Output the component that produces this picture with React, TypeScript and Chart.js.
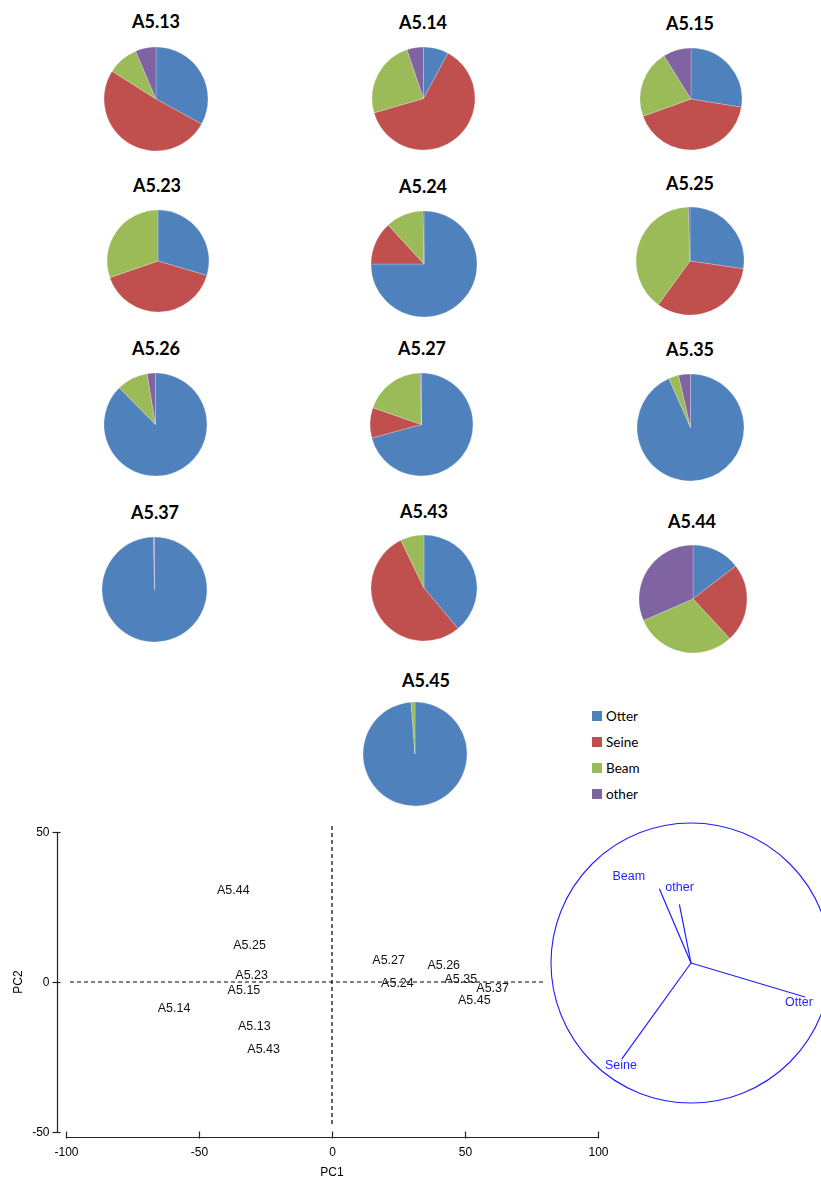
import React, { useEffect, useRef } from "react";
import { Chart, registerables } from "chart.js";

Chart.register(...registerables);

// ---- Gear categories ----
const gearTypes = ["Otter", "Seine", "Beam", "other"];
const gearColors = ["#4F81BD", "#C0504D", "#9BBB59", "#8064A2"];

// ---- Sites and gear composition (% of catch) ----
const sites = ["A5.13", "A5.14", "A5.15", "A5.23", "A5.24", "A5.25", "A5.26", "A5.27", "A5.35", "A5.37", "A5.43", "A5.44", "A5.45"];
const otterShare = [33.0, 7.9, 27.6, 29.6, 75.0, 27.3, 87.6, 70.8, 93.4, 99.7, 38.9, 14.5, 98.8];
const seineShare = [51.0, 62.6, 41.9, 40.1, 13.2, 32.7, 0, 9.5, 0, 0, 53.9, 23.6, 0];
const beamShare = [9.6, 24.3, 21.6, 30.3, 11.5, 39.5, 9.8, 19.3, 3.0, 0, 7.2, 30.4, 1.2];
const otherShare = [6.4, 5.2, 8.9, 0, 0.3, 0.5, 2.6, 0.4, 3.6, 0.3, 0, 31.5, 0];

// ---- PCA site scores ----
const pc1Scores = [-29.2, -59.4, -33.1, -30.2, 24.6, -31.0, 42.0, 21.3, 48.4, 60.4, -25.7, -37.1, 53.5];
const pc2Scores = [-15.0, -9.0, -2.8, 2.1, -0.6, 12.3, 5.4, 7.0, 0.7, -2.2, -22.5, 30.6, -6.3];

// ---- PCA axis ticks and reference lines ----
const pc1Ticks = [-100, -50, 0, 50, 100];
const pc2Ticks = [-50, 0, 50];
const horizontalRefX = [-98.5, 79.3];
const verticalRefY = [52, -48.3];

// ---- Gear loadings on PC1/PC2 (correlation circle) ----
const loadingPC1 = [0.814, -0.495, -0.226, -0.083];
const loadingPC2 = [-0.243, -0.686, 0.531, 0.419];

// Page placement of each small pie (centre, radius, title centre)
const pieLayout = [
  { cx: 156, cy: 98.5, r: 52, tx: 156, ty: 21 },
  { cx: 423.5, cy: 98.5, r: 51.5, tx: 423, ty: 22 },
  { cx: 690.5, cy: 99, r: 51, tx: 690, ty: 23 },
  { cx: 157.5, cy: 260.5, r: 51, tx: 157, ty: 185 },
  { cx: 423.5, cy: 263.5, r: 53, tx: 423, ty: 185.5 },
  { cx: 689.5, cy: 261, r: 54, tx: 690, ty: 183 },
  { cx: 155.5, cy: 424.5, r: 51.5, tx: 156, ty: 348 },
  { cx: 421.5, cy: 424.5, r: 51.5, tx: 422, ty: 348 },
  { cx: 690.5, cy: 427, r: 53.5, tx: 690, ty: 349 },
  { cx: 154.5, cy: 589.5, r: 52.5, tx: 155, ty: 512 },
  { cx: 424, cy: 588, r: 53, tx: 424, ty: 511 },
  { cx: 692.5, cy: 598.5, r: 54, tx: 692, ty: 521 },
  { cx: 415, cy: 754, r: 52, tx: 426, ty: 680 },
];

// Label offsets (px) from each loading arrow tip
const loadingLabelOffset = [
  { dx: -6, dy: 6 },
  { dx: -0.7, dy: 6.7 },
  { dx: -30.6, dy: -12.3 },
  { dx: 0.2, dy: -16.6 },
];

const AXIS_FONT = '12px "Liberation Sans", Arial, sans-serif';
const LABEL_FONT = '12.5px "Liberation Sans", Arial, sans-serif';
const LOADING_BLUE = "#1f1fff";

function SitePie({ index }: { index: number }) {
  const ref = useRef<HTMLCanvasElement | null>(null);
  const { cx, cy, r, tx, ty } = pieLayout[index];
  const size = Math.ceil(2 * r + 6);

  useEffect(() => {
    if (!ref.current) return;
    const chart = new Chart(ref.current, {
      type: "pie",
      data: {
        labels: gearTypes,
        datasets: [
          {
            data: [otterShare[index], seineShare[index], beamShare[index], otherShare[index]],
            backgroundColor: gearColors,
            borderColor: "rgba(255,255,255,0.45)",
            borderWidth: 0.5,
          },
        ],
      },
      options: {
        responsive: false,
        animation: false,
        events: [],
        radius: r,
        layout: { padding: 0 },
        plugins: { legend: { display: false }, tooltip: { enabled: false } },
      },
    });
    return () => chart.destroy();
  }, [index, r]);

  return (
    <>
      <div
        style={{
          position: "absolute",
          left: tx,
          top: ty,
          transform: "translate(-50%, -50%)",
          font: 'bold 18px Lato, "Open Sans", sans-serif',
          lineHeight: 1,
          color: "#000",
          whiteSpace: "nowrap",
        }}
      >
        {sites[index]}
      </div>
      <canvas
        ref={ref}
        width={size}
        height={size}
        style={{ position: "absolute", left: cx - size / 2, top: cy - size / 2, width: size, height: size }}
      />
    </>
  );
}

function GearLegend() {
  return (
    <div style={{ position: "absolute", left: 592, top: 703 }}>
      {gearTypes.map((g, i) => (
        <div key={g} style={{ display: "flex", alignItems: "center", height: 26 }}>
          <span style={{ display: "inline-block", width: 10, height: 10, background: gearColors[i], marginRight: 4 }} />
          <span style={{ font: '13.5px Lato, "Open Sans", sans-serif', color: "#000" }}>{g}</span>
        </div>
      ))}
    </div>
  );
}

// Detached axes with tick marks, tick labels and axis titles
const pcaAxesPlugin = {
  id: "pcaAxes",
  afterDraw(chart: any) {
    const { ctx } = chart;
    const xs = chart.scales.x;
    const ys = chart.scales.y;
    const axisX = Math.round(xs.getPixelForValue(-103.4)) + 0.5;
    const axisY = Math.round(ys.getPixelForValue(-51.7)) + 0.5;
    ctx.save();
    ctx.lineWidth = 1.2;
    ctx.strokeStyle = "#222";

    // PC2 axis
    ctx.beginPath();
    ctx.moveTo(axisX, ys.getPixelForValue(pc2Ticks[pc2Ticks.length - 1]));
    ctx.lineTo(axisX, ys.getPixelForValue(pc2Ticks[0]));
    ctx.stroke();
    ctx.font = AXIS_FONT;
    ctx.fillStyle = "#000";
    ctx.textAlign = "right";
    ctx.textBaseline = "middle";
    for (const t of pc2Ticks) {
      const py = Math.round(ys.getPixelForValue(t)) + 0.5;
      ctx.beginPath();
      ctx.moveTo(axisX - 5, py);
      ctx.lineTo(axisX + 3, py);
      ctx.stroke();
      ctx.fillText(String(t), axisX - 8, py);
    }

    // PC1 axis
    ctx.beginPath();
    ctx.moveTo(xs.getPixelForValue(pc1Ticks[0]), axisY);
    ctx.lineTo(xs.getPixelForValue(pc1Ticks[pc1Ticks.length - 1]), axisY);
    ctx.stroke();
    ctx.textAlign = "center";
    ctx.textBaseline = "middle";
    for (const t of pc1Ticks) {
      const px = Math.round(xs.getPixelForValue(t)) + 0.5;
      ctx.beginPath();
      ctx.moveTo(px, axisY - 6);
      ctx.lineTo(px, axisY + 1);
      ctx.stroke();
      ctx.fillText(String(t), px, axisY + 15);
    }

    // Axis titles
    ctx.fillText("PC1", xs.getPixelForValue(0), axisY + 35);
    ctx.save();
    ctx.translate(axisX - 39, ys.getPixelForValue(0));
    ctx.rotate(-Math.PI / 2);
    ctx.fillText("PC2", 0, 0);
    ctx.restore();
    ctx.restore();
  },
};

// Site names drawn at their score positions
const siteLabelPlugin = {
  id: "siteLabels",
  afterDatasetsDraw(chart: any) {
    const meta = chart.getDatasetMeta(0);
    const { ctx } = chart;
    ctx.save();
    ctx.font = LABEL_FONT;
    ctx.fillStyle = "#111";
    ctx.textAlign = "center";
    ctx.textBaseline = "middle";
    meta.data.forEach((pt: any, i: number) => {
      ctx.fillText(sites[i], pt.x, pt.y);
    });
    ctx.restore();
  },
};

function PcaScatter() {
  const ref = useRef<HTMLCanvasElement | null>(null);
  useEffect(() => {
    if (!ref.current) return;
    const chart = new Chart(ref.current, {
      type: "scatter",
      data: {
        datasets: [
          {
            label: "sites",
            data: sites.map((_, i) => ({ x: pc1Scores[i], y: pc2Scores[i] })),
            pointRadius: 0,
            clip: false as any,
          },
          {
            label: "PC2 = 0",
            data: horizontalRefX.map((v) => ({ x: v, y: 0 })),
            showLine: true,
            borderColor: "#000",
            borderWidth: 1.2,
            borderDash: [4, 3],
            pointRadius: 0,
            clip: false as any,
          },
          {
            label: "PC1 = 0",
            data: verticalRefY.map((v) => ({ x: 0, y: v })),
            showLine: true,
            borderColor: "#000",
            borderWidth: 1.2,
            borderDash: [4, 3],
            pointRadius: 0,
            clip: false as any,
          },
        ],
      },
      options: {
        responsive: false,
        animation: false,
        events: [],
        layout: { padding: { left: 66, right: 22, top: 22, bottom: 46 } },
        scales: {
          x: { type: "linear", min: -100, max: 100, display: false },
          y: { type: "linear", min: -50, max: 50, display: false },
        },
        plugins: { legend: { display: false }, tooltip: { enabled: false } },
      },
      plugins: [pcaAxesPlugin, siteLabelPlugin],
    });
    return () => chart.destroy();
  }, []);
  return (
    <canvas ref={ref} width={620} height={368} style={{ position: "absolute", left: 0, top: 810, width: 620, height: 368 }} />
  );
}

// Unit circle behind the loading vectors, and gear names at the tips
const circlePlugin = {
  id: "loadingCircle",
  beforeDatasetsDraw(chart: any) {
    const { ctx } = chart;
    const xs = chart.scales.x;
    const ys = chart.scales.y;
    const cx = xs.getPixelForValue(0);
    const cy = ys.getPixelForValue(0);
    const rad = xs.getPixelForValue(1) - cx;
    ctx.save();
    ctx.strokeStyle = LOADING_BLUE;
    ctx.lineWidth = 1.1;
    ctx.beginPath();
    ctx.arc(cx, cy, rad, 0, Math.PI * 2);
    ctx.stroke();
    ctx.restore();
  },
  afterDatasetsDraw(chart: any) {
    const { ctx } = chart;
    ctx.save();
    ctx.font = LABEL_FONT;
    ctx.fillStyle = LOADING_BLUE;
    ctx.textAlign = "center";
    ctx.textBaseline = "middle";
    gearTypes.forEach((g, i) => {
      const meta = chart.getDatasetMeta(i);
      const tip = meta.data[1];
      const off = loadingLabelOffset[i];
      ctx.fillText(g, tip.x + off.dx, tip.y + off.dy);
    });
    ctx.restore();
  },
};

function LoadingCircle() {
  const ref = useRef<HTMLCanvasElement | null>(null);
  useEffect(() => {
    if (!ref.current) return;
    const chart = new Chart(ref.current, {
      type: "scatter",
      data: {
        datasets: gearTypes.map((g, i) => ({
          label: g,
          data: [
            { x: 0, y: 0 },
            { x: loadingPC1[i], y: loadingPC2[i] },
          ],
          showLine: true,
          borderColor: LOADING_BLUE,
          borderWidth: 1.2,
          pointRadius: 0,
          clip: false as any,
        })),
      },
      options: {
        responsive: false,
        animation: false,
        events: [],
        layout: { padding: { left: 6, right: 4, top: 8, bottom: 12 } },
        scales: {
          x: { type: "linear", min: -1, max: 1, display: false },
          y: { type: "linear", min: -1, max: 1, display: false },
        },
        plugins: { legend: { display: false }, tooltip: { enabled: false } },
      },
      plugins: [circlePlugin],
    });
    return () => chart.destroy();
  }, []);
  return (
    <canvas ref={ref} width={290} height={300} style={{ position: "absolute", left: 545, top: 815, width: 290, height: 300 }} />
  );
}

export default function App() {
  return (
    <div
      style={{
        position: "absolute",
        left: 0,
        top: 0,
        width: 821,
        height: 1178,
        overflow: "hidden",
        background: "#fff",
      }}
    >
      {sites.map((s, i) => (
        <SitePie key={s} index={i} />
      ))}
      <GearLegend />
      <PcaScatter />
      <LoadingCircle />
    </div>
  );
}
